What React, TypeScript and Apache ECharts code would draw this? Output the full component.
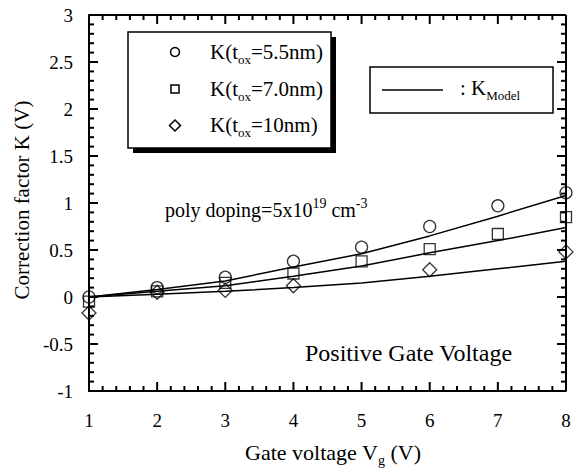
import React, { useEffect, useRef } from "react";
import * as echarts from "echarts";

const gateVoltage = [1, 2, 3, 4, 5, 6, 7, 8];
const k55 = [0.0, 0.1, 0.21, 0.38, 0.53, 0.75, 0.97, 1.11];
const k70 = [-0.05, 0.06, 0.15, 0.25, 0.38, 0.51, 0.67, 0.85];
const k10Voltage = [1, 2, 3, 4, 6, 8];
const k10 = [-0.17, 0.05, 0.07, 0.12, 0.29, 0.48];
const model55 = [0.0, 0.08, 0.17, 0.32, 0.46, 0.65, 0.86, 1.08];
const model70 = [0.0, 0.06, 0.12, 0.22, 0.33, 0.47, 0.6, 0.74];
const model10 = [0.0, 0.03, 0.06, 0.1, 0.15, 0.22, 0.3, 0.38];

const X_MIN = 1, X_MAX = 8, X_STEP = 1, X_MINOR = 5;
const Y_MIN = -1, Y_MAX = 3, Y_STEP = 0.5, Y_MINOR = 5;

const FONT = "Liberation Serif";

const zip = (xs: number[], ys: number[]) => xs.map((x, i) => [x, ys[i]]);

export default function App() {
  const ref = useRef<HTMLDivElement>(null);
  useEffect(() => {
    if (!ref.current) return;
    const chart = echarts.init(ref.current, null, { renderer: "svg" });
    const mkAxis = (margin: number) => ({
      axisLine: { show: true, onZero: false, lineStyle: { color: "#000", width: 2 } },
      axisTick: { show: false },
      minorTick: { show: false },
      splitLine: { show: false },
      axisLabel: { show: true, color: "#000", fontFamily: FONT, fontSize: 19, margin },
    });
    const scatterStyle = { color: "transparent", borderColor: "#000", borderWidth: 1.3 };
    const lineStyle = { color: "#000", width: 1.5 };
    const seg = (x1: number, y1: number, x2: number, y2: number, w: number) => ({
      type: "polyline", shape: { points: [[x1, y1], [x2, y2]] }, style: { stroke: "#000", lineWidth: w, fill: null },
    });
    const renderFrame = (params: any) => {
      const cs = params.coordSys;
      const left = cs.x, right = cs.x + cs.width, top = cs.y, bottom = cs.y + cs.height;
      const children: any[] = [seg(left, top, right, top, 2), seg(right, top, right, bottom, 2)];
      const nx = Math.round(((X_MAX - X_MIN) / X_STEP) * X_MINOR);
      for (let i = 0; i <= nx; i++) {
        const px = left + (i / nx) * cs.width;
        const major = i % X_MINOR === 0;
        const len = major ? 9 : 5;
        const w = 2;
        children.push(seg(px, bottom, px, bottom - len, w), seg(px, top, px, top + len, w));
      }
      const ny = Math.round(((Y_MAX - Y_MIN) / Y_STEP) * Y_MINOR);
      for (let i = 0; i <= ny; i++) {
        const py = bottom - (i / ny) * cs.height;
        const major = i % Y_MINOR === 0;
        const len = major ? 9 : 5;
        const w = 2;
        children.push(seg(left, py, left + len, py, w), seg(right, py, right - len, py, w));
      }
      return { type: "group", children };
    };
    const option: any = {
      animation: false,
      grid: { left: 89, right: 18, top: 15, bottom: 85 },
      xAxis: { type: "value", min: X_MIN, max: X_MAX, interval: X_STEP, ...mkAxis(20) },
      yAxis: { type: "value", min: Y_MIN, max: Y_MAX, interval: Y_STEP, ...mkAxis(16) },
      series: [
        { type: "custom", coordinateSystem: "cartesian2d", data: [[X_MIN, Y_MIN]], renderItem: renderFrame, clip: false, silent: true, z: 4 },
        { type: "line", data: zip(gateVoltage, model55), showSymbol: false, lineStyle, z: 2 },
        { type: "line", data: zip(gateVoltage, model70), showSymbol: false, lineStyle, z: 2 },
        { type: "line", data: zip(gateVoltage, model10), showSymbol: false, lineStyle, z: 2 },
        { type: "scatter", data: zip(gateVoltage, k55), symbol: "circle", symbolSize: 12, itemStyle: scatterStyle, z: 3 },
        { type: "scatter", data: zip(gateVoltage, k70), symbol: "rect", symbolSize: 11, itemStyle: scatterStyle, z: 3 },
        { type: "scatter", data: zip(k10Voltage, k10), symbol: "diamond", symbolSize: 14, itemStyle: scatterStyle, z: 3 },
      ],
      graphic: [
        { type: "rect", shape: { x: 133, y: 37, width: 203, height: 116 }, style: { fill: "#000" }, z: 10 },
        { type: "rect", shape: { x: 128, y: 32, width: 203, height: 116 }, style: { fill: "#fff", stroke: "#000", lineWidth: 1.5 }, z: 11 },
        { type: "circle", shape: { cx: 175, cy: 52, r: 4.5 }, style: { fill: "none", stroke: "#000", lineWidth: 1.5 }, z: 12 },
        { type: "rect", shape: { x: 171, y: 85, width: 8, height: 8 }, style: { fill: "none", stroke: "#000", lineWidth: 1.5 }, z: 12 },
        { type: "polygon", shape: { points: [[175, 120], [180.5, 125.5], [175, 131], [169.5, 125.5]] }, style: { fill: "none", stroke: "#000", lineWidth: 1.5 }, z: 12 },
        {
          type: "text", z: 12,
          style: { x: 210, y: 52, text: "K(t{s|ox}=5.5nm)", fontFamily: FONT, fontSize: 21, fill: "#000", textVerticalAlign: "middle",
            rich: { s: { fontSize: 13, fontFamily: FONT, padding: [14, 0, 0, 0] } } },
        },
        {
          type: "text", z: 12,
          style: { x: 210, y: 89, text: "K(t{s|ox}=7.0nm)", fontFamily: FONT, fontSize: 21, fill: "#000", textVerticalAlign: "middle",
            rich: { s: { fontSize: 13, fontFamily: FONT, padding: [14, 0, 0, 0] } } },
        },
        {
          type: "text", z: 12,
          style: { x: 210, y: 125, text: "K(t{s|ox}=10nm)", fontFamily: FONT, fontSize: 21, fill: "#000", textVerticalAlign: "middle",
            rich: { s: { fontSize: 13, fontFamily: FONT, padding: [14, 0, 0, 0] } } },
        },
        { type: "rect", shape: { x: 370, y: 67, width: 183, height: 46 }, style: { fill: "#fff", stroke: "#000", lineWidth: 1.5 }, z: 11 },
        { type: "line", shape: { x1: 382, y1: 90, x2: 443, y2: 90 }, style: { stroke: "#000", lineWidth: 1.5 }, z: 12 },
        {
          type: "text", z: 12,
          style: { x: 460, y: 88, text: ": K{s|Model}", fontFamily: FONT, fontSize: 21, fill: "#000", textVerticalAlign: "middle",
            rich: { s: { fontSize: 13, fontFamily: FONT, padding: [14, 0, 0, 0] } } },
        },
        {
          type: "text", z: 12,
          style: { x: 165, y: 210, text: "poly doping=5x10{p|19} cm{p|-3}", fontFamily: FONT, fontSize: 20, fill: "#000", textVerticalAlign: "middle",
            rich: { p: { fontSize: 14, fontFamily: FONT, padding: [0, 0, 13, 0] } } },
        },
        {
          type: "text", z: 12,
          style: { x: 305, y: 353, text: "Positive Gate Voltage", fontFamily: FONT, fontSize: 24, fill: "#000", textVerticalAlign: "middle" },
        },
        {
          type: "text", z: 12,
          style: { x: 333, y: 452, text: "Gate voltage V{s|g} (V)", fontFamily: FONT, fontSize: 22, fill: "#000", textAlign: "center", textVerticalAlign: "middle",
            rich: { s: { fontSize: 14, fontFamily: FONT, padding: [16, 0, 0, 0] } } },
        },
        {
          type: "text", z: 12, x: 22, y: 200, rotation: Math.PI / 2,
          style: { x: 0, y: 0, text: "Correction factor K (V)", fontFamily: FONT, fontSize: 21, fill: "#000", textAlign: "center", textVerticalAlign: "middle" },
        },
      ],
    };
    chart.setOption(option);
    return () => chart.dispose();
  }, []);
  return <div ref={ref} style={{ width: 584, height: 476, position: "absolute", left: 0, top: 0 }} />;
}
